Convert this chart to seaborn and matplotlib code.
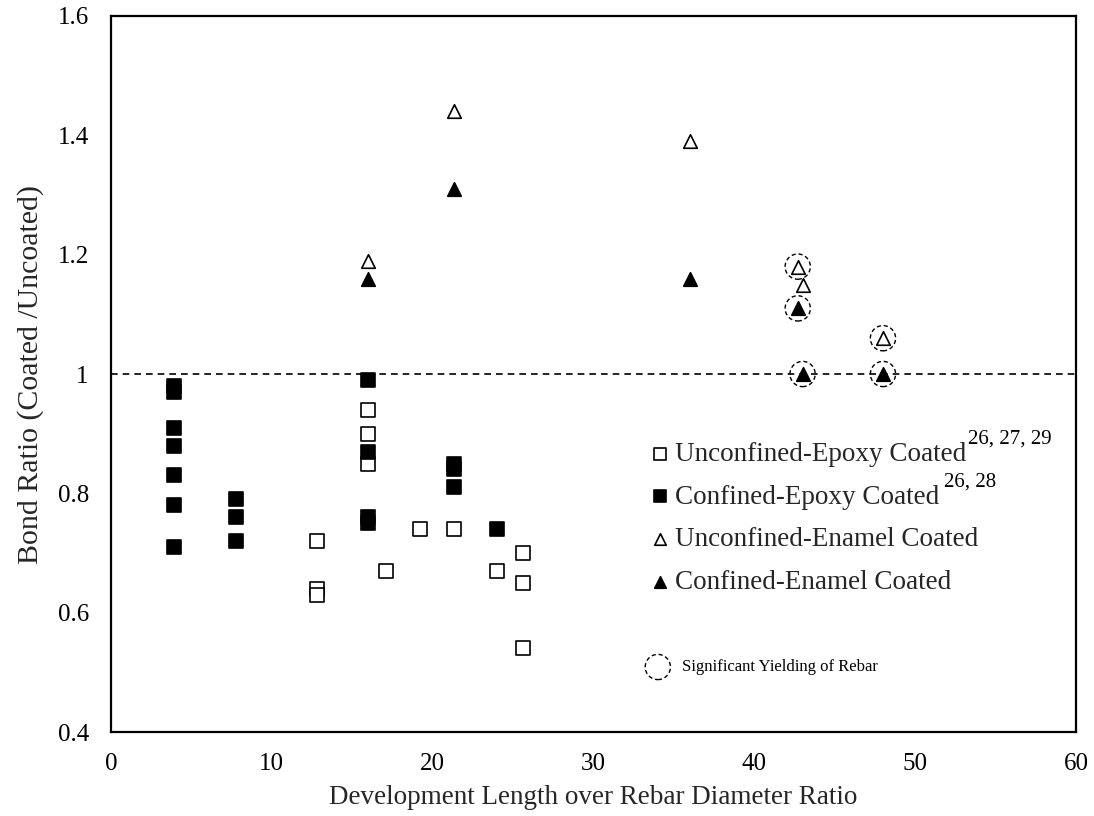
import matplotlib
matplotlib.use("Agg")
import matplotlib.pyplot as plt
import seaborn as sns
import pandas as pd

# Unconfined, epoxy coated (open squares)
ue_x = [12.8, 12.8, 12.8, 16.0, 16.0, 16.0, 17.1, 19.2, 21.3, 24.0, 25.6, 25.6, 25.6]
ue_y = [0.72, 0.64, 0.63, 0.94, 0.90, 0.85, 0.67, 0.74, 0.74, 0.67, 0.70, 0.65, 0.54]

# Confined, epoxy coated (filled squares)
ce_x = [3.9, 3.9, 3.9, 3.9, 3.9, 3.9, 3.9, 7.75, 7.75, 7.75,
        16.0, 16.0, 16.0, 16.0, 21.3, 21.3, 21.3, 24.0]
ce_y = [0.98, 0.97, 0.91, 0.88, 0.83, 0.78, 0.71, 0.79, 0.76, 0.72,
        0.99, 0.87, 0.76, 0.75, 0.85, 0.84, 0.81, 0.74]

# Unconfined, enamel coated (open triangles)
un_x = [16.0, 21.3, 36.0, 42.7, 43.0, 48.0]
un_y = [1.19, 1.44, 1.39, 1.18, 1.15, 1.06]

# Confined, enamel coated (filled triangles)
cn_x = [16.0, 21.3, 36.0, 42.7, 43.0, 48.0]
cn_y = [1.16, 1.31, 1.16, 1.11, 1.00, 1.00]

# Specimens with significant yielding of the rebar
yield_x = [42.7, 42.7, 43.0, 48.0, 48.0]
yield_y = [1.18, 1.11, 1.00, 1.06, 1.00]

labels = ["Unconfined-Epoxy Coated", "Confined-Epoxy Coated",
          "Unconfined-Enamel Coated", "Confined-Enamel Coated"]
superscripts = ["26, 27, 29", "26, 28"]
yield_note = "Significant Yielding of Rebar"

x_ticks = [0, 10, 20, 30, 40, 50, 60]
y_ticks = [0.4, 0.6, 0.8, 1.0, 1.2, 1.4, 1.6]
y_ticklabels = ["0.4", "0.6", "0.8", "1", "1.2", "1.4", "1.6"]

sns.set_theme(style="white")
plt.rcParams["font.family"] = ["Liberation Serif", "DejaVu Serif"]

fig = plt.figure(figsize=(10.94, 8.16), dpi=100)
ax = fig.add_axes([0.1015, 0.1029, 0.882, 0.8775])

groups = [
    (ue_x, ue_y, "s", "white"),
    (ce_x, ce_y, "s", "black"),
    (un_x, un_y, "^", "white"),
    (cn_x, cn_y, "^", "black"),
]

ax.axhline(1.0, color="black", lw=1.2, ls=(0, (4, 3)), zorder=1)

for (gx, gy, mk, fc), lab in zip(groups, labels):
    df = pd.DataFrame({"x": gx, "y": gy})
    sns.scatterplot(data=df, x="x", y="y", marker=mk, s=95, color=fc,
                    edgecolor="black", linewidth=1.2, label=lab, ax=ax, zorder=3)

ax.scatter(yield_x, yield_y, s=330, facecolors="none", edgecolors="black",
           linewidths=1.0, linestyles=(0, (3, 2)), zorder=4)

ax.set_xlim(0, 60)
ax.set_ylim(0.4, 1.6)
ax.set_xticks(x_ticks)
ax.set_yticks(y_ticks)
ax.set_yticklabels(y_ticklabels)
ax.tick_params(axis="both", direction="in", length=7, width=1.5, labelsize=18,
               colors="black")
ax.tick_params(axis="x", pad=15)
ax.tick_params(axis="y", pad=16)
for sp in ax.spines.values():
    sp.set_color("black")
    sp.set_linewidth(1.6)

ax.set_xlabel("Development Length over Rebar Diameter Ratio", fontsize=19.5, labelpad=7)
ax.set_ylabel("Bond Ratio (Coated /Uncoated)", fontsize=21.5, labelpad=10)

leg = ax.legend(loc="center left", bbox_to_anchor=(0.544, 0.2982), frameon=False,
                fontsize=19.5, markerscale=0.85, handletextpad=0.05,
                labelspacing=0.66, borderaxespad=0, handlelength=1.0)

fig.canvas.draw()
renderer = fig.canvas.get_renderer()
inv = fig.transFigure.inverted()
for txt, sup, gap in zip(leg.get_texts()[:2], superscripts, [2, 5]):
    bb = txt.get_window_extent(renderer)
    x0, y1 = inv.transform((bb.x1 + gap, bb.y1 - 2))
    fig.text(x0, y1, sup, fontsize=15, ha="left", va="baseline", color="black")

# Key for the dashed circles
ax.scatter([34.0], [0.509], s=330, facecolors="none", edgecolors="black",
           linewidths=1.0, linestyles=(0, (3, 2)), clip_on=False)
ax.text(35.5, 0.509, yield_note, fontsize=12, ha="left", va="center", color="black")

fig.savefig("out.png", dpi=100, facecolor="white")
